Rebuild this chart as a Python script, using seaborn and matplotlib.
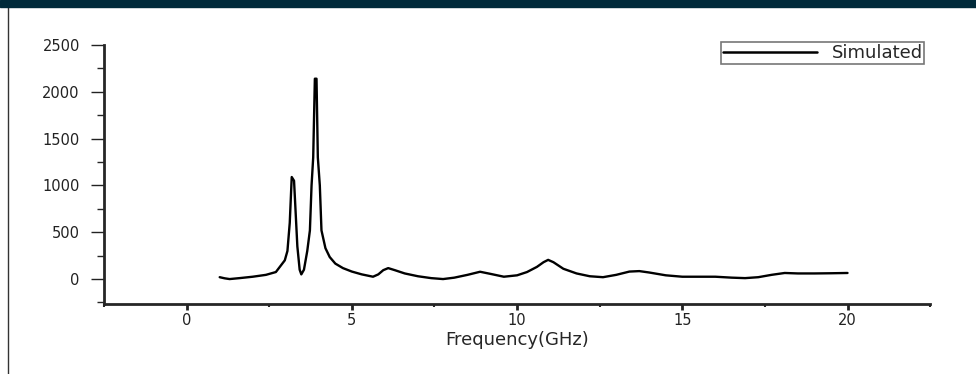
import matplotlib
matplotlib.use('Agg')
import matplotlib.pyplot as plt
from matplotlib.ticker import MultipleLocator
from matplotlib.patches import Rectangle
from matplotlib.lines import Line2D
import pandas as pd
import seaborn as sns

# values
freq = [1.0, 1.15, 1.3, 1.6, 2.0, 2.4, 2.7, 2.97, 3.05, 3.12, 3.18, 3.25,
        3.3, 3.35, 3.42, 3.47, 3.55, 3.65, 3.73, 3.78, 3.83, 3.88, 3.93,
        3.97, 4.03, 4.08, 4.2, 4.33, 4.5, 4.73, 5.0, 5.3, 5.64, 5.8, 5.95,
        6.1, 6.3, 6.6, 7.0, 7.4, 7.76, 8.1, 8.5, 8.88, 9.2, 9.6, 10.0,
        10.3, 10.6, 10.8, 10.94, 11.1, 11.4, 11.8, 12.2, 12.6, 13.0, 13.4,
        13.7, 14.0, 14.5, 15.0, 15.5, 16.0, 16.5, 16.9, 17.3, 17.7, 18.1,
        18.5, 19.0, 19.5, 20.0]
simulated = [20, 8, 0, 10, 25, 45, 75, 200, 300, 600, 1090, 1050,
             700, 350, 100, 50, 100, 300, 520, 1000, 1300, 2140, 2140,
             1300, 1000, 520, 330, 235, 165, 117, 80, 50, 25, 50, 95,
             117, 95, 60, 30, 10, 0, 15, 45, 78, 55, 25, 40,
             75, 130, 180, 205, 180, 110, 60, 30, 20, 45, 80,
             85, 70, 40, 25, 25, 25, 15, 10, 20, 45, 65,
             60, 60, 62, 65]

df = pd.DataFrame({'Frequency': freq, 'Simulated': simulated})

sns.set_style('ticks')
plt.rcParams['font.family'] = ['DejaVu Sans']

fig = plt.figure(figsize=(9.76, 3.74), dpi=100)
ax = fig.add_axes([0.1066, 0.187, 0.8464, 0.6927])

sns.lineplot(data=df, x='Frequency', y='Simulated', color='black',
             linewidth=1.7, ax=ax, legend=False)

ax.set_xlim(-2.5, 22.5)
ax.xaxis.set_major_locator(MultipleLocator(5))
ax.xaxis.set_minor_locator(MultipleLocator(2.5))
ax.set_yticks([0, 500, 1000, 1500, 2000, 2500])
ax.yaxis.set_minor_locator(MultipleLocator(250))
ax.set_ylim(-267, 2500)

sns.despine(ax=ax)
for s in ['left', 'bottom']:
    ax.spines[s].set_linewidth(2)
ax.tick_params(axis='y', which='major', length=9.4, width=1, pad=8,
               labelsize=10.5, colors='#222222')
ax.tick_params(axis='y', which='minor', length=5, width=1)
ax.tick_params(axis='x', which='major', length=4.3, width=2, pad=2,
               labelsize=10.5, colors='#222222')
ax.tick_params(axis='x', which='minor', length=2, width=1.5)

ax.set_xlabel('Frequency(GHz)', fontsize=13, labelpad=2)
ax.set_ylabel('')

handle = Line2D([], [], color='black', linewidth=1.8)
leg = ax.legend([handle], ['Simulated'], loc='upper right',
                bbox_to_anchor=(0.993, 1.01), fontsize=13, frameon=True,
                fancybox=False, handlelength=5.2, borderpad=0.1,
                handletextpad=0.8, borderaxespad=0)
leg.get_frame().set_edgecolor('#555555')
leg.get_frame().set_linewidth(1.2)

# dark band at the top and thin left edge line
fig.add_artist(Rectangle((0, 1 - 7 / 374), 1, 7 / 374, transform=fig.transFigure,
                         color='#002a3a', zorder=10))
fig.add_artist(Line2D([8 / 976, 8 / 976], [0, 1 - 7 / 374],
                      transform=fig.transFigure, color='#333333', linewidth=1))

fig.savefig('out.png', dpi=100)
